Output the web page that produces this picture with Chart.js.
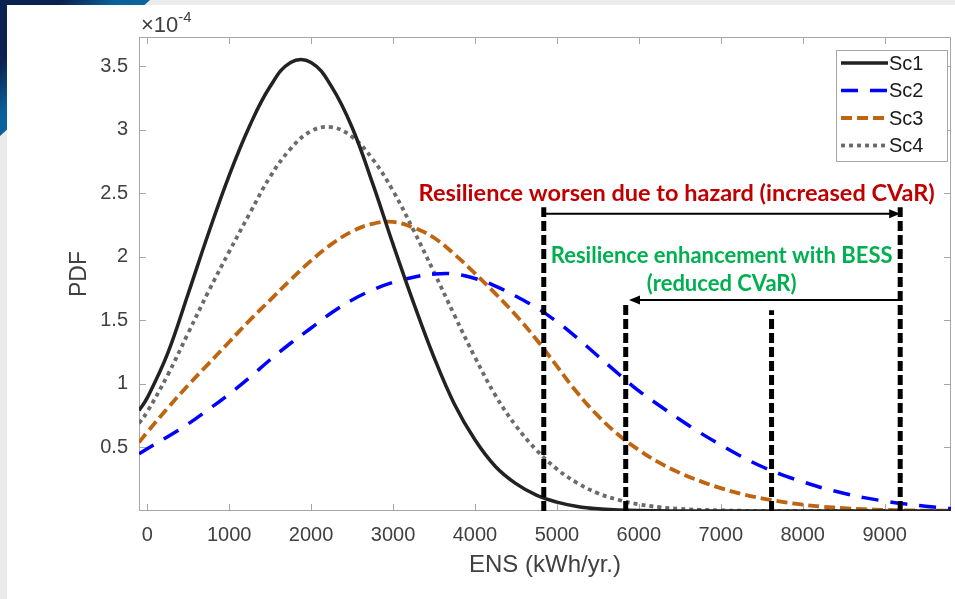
<!DOCTYPE html>
<html>
<head>
<meta charset="utf-8">
<title>PDF of ENS</title>
<script src="https://cdn.jsdelivr.net/npm/chart.js@4.4.1/dist/chart.umd.min.js"></script>
<style>
  html, body { margin: 0; padding: 0; }
  body { width: 955px; height: 599px; background: #ebebeb; position: relative; overflow: hidden; }
  .deco { position: absolute; left: 0; top: 0; width: 150px; height: 136px;
    background: linear-gradient(135deg, #0b2150 0%, #0b2150 22%, #0a5f98 40%, #1a7fbd 100%);
    clip-path: polygon(0 0, 100% 0, 0 100%); }
  .card { position: absolute; left: 7px; top: 5px; right: 0; bottom: 0; background: #fff; }
  #chart { position: absolute; left: 0; top: 0; }
</style>
</head>
<body>
<div class="deco"></div>
<div class="card"></div>
<canvas id="chart" width="955" height="599"></canvas>
<script>
// ENS values (kWh/yr.) where the curves were read
const ensGrid = [-100, 0, 250, 500, 750, 1000, 1250, 1500, 1750, 2000, 2250, 2500, 2750, 3000,
  3250, 3500, 3750, 4000, 4250, 4500, 4750, 5000, 5250, 5500, 5750, 6000, 6250, 6500, 6750,
  7000, 7250, 7500, 7750, 8000, 8250, 8500, 8750, 9000, 9250, 9500, 9750, 9810];

// PDF values, in units of 1e-4
const sc1 = [0.79, 0.89, 1.24, 1.71, 2.19, 2.64, 3.03, 3.34, 3.53, 3.53, 3.34, 3.02, 2.58, 2.10,
  1.64, 1.21, 0.84, 0.56, 0.35, 0.215, 0.125, 0.07, 0.036, 0.017, 0.008, 0.003, 0.001, 0, 0,
  0, 0, 0, 0, 0, 0, 0, 0, 0, 0, 0, 0, 0];
const sc2 = [0.45, 0.49, 0.585, 0.685, 0.80, 0.92, 1.05, 1.19, 1.32, 1.44, 1.56, 1.66, 1.74, 1.80,
  1.84, 1.865, 1.865, 1.83, 1.77, 1.69, 1.60, 1.49, 1.36, 1.22, 1.08, 0.945, 0.83, 0.72, 0.615,
  0.52, 0.43, 0.35, 0.285, 0.23, 0.18, 0.14, 0.105, 0.078, 0.056, 0.038, 0.022, 0.019];
const sc3 = [0.54, 0.62, 0.81, 0.99, 1.16, 1.33, 1.50, 1.66, 1.82, 1.97, 2.10, 2.20, 2.26, 2.275,
  2.23, 2.15, 2.02, 1.87, 1.71, 1.54, 1.35, 1.14, 0.93, 0.75, 0.60, 0.48, 0.38, 0.30, 0.235,
  0.18, 0.135, 0.10, 0.072, 0.05, 0.034, 0.022, 0.014, 0.009, 0.005, 0.003, 0.002, 0.001];
const sc4 = [0.69, 0.78, 1.07, 1.40, 1.73, 2.04, 2.34, 2.63, 2.85, 2.99, 3.02, 2.945, 2.77, 2.52,
  2.21, 1.88, 1.54, 1.21, 0.91, 0.67, 0.48, 0.33, 0.22, 0.14, 0.088, 0.053, 0.03, 0.017, 0.009,
  0.005, 0.002, 0.001, 0, 0, 0, 0, 0, 0, 0, 0, 0, 0];

const seriesLabels = ['Sc1', 'Sc2', 'Sc3', 'Sc4'];
const xTickValues = [0, 1000, 2000, 3000, 4000, 5000, 6000, 7000, 8000, 9000];
const yTickValues = [0.5, 1, 1.5, 2, 2.5, 3, 3.5];

// CVaR markers (vertical dashed lines)
const markerX = [4840, 5840, 7620, 9190];
const markerTop = [2.39, 1.65, 1.58, 2.39];

// arrows between markers
const arrowFrom = [4840, 9190];
const arrowTo = [9190, 5880];
const arrowY = [2.34, 1.66];

// annotation texts
const noteText = ['Resilience worsen due to hazard (increased CVaR)', 'Resilience enhancement with BESS', '(reduced CVaR)'];
const noteX = [6462, 7011, 7011];
const noteY = [2.50, 2.01, 1.79];
const noteSize = [23.5, 22, 22];
const noteColor = ['#c00000', '#00b050', '#00b050'];

const AXIS_FONT = '"Liberation Sans", Arial, sans-serif';
const NOTE_FONT = 'Lato, "Open Sans", sans-serif';
const TEXT = '#404040';

const toPoints = ys => ensGrid.map((x, i) => ({ x, y: ys[i] }));

const curveStyle = [
  { borderColor: '#222222', borderWidth: 3.5, borderDash: [] },
  { borderColor: '#0000ff', borderWidth: 3.5, borderDash: [17, 12] },
  { borderColor: '#bf6410', borderWidth: 3.8, borderDash: [11, 5] },
  { borderColor: '#6b6b6b', borderWidth: 3.8, borderDash: [4, 4] },
];

const datasets = [sc1, sc2, sc3, sc4].map((ys, i) => ({
  label: seriesLabels[i],
  data: toPoints(ys),
  ...curveStyle[i],
  pointRadius: 0,
  tension: 0.4,
  fill: false,
}));

markerX.forEach((x, i) => {
  datasets.push({
    label: 'marker' + i,
    data: [{ x, y: 0 }, { x, y: markerTop[i] }],
    borderColor: '#000',
    borderWidth: 5,
    borderDash: [10, 4],
    pointRadius: 0,
    tension: 0,
    order: -1,
  });
});

function arrowHead(ctx, x, y, dir) {
  ctx.beginPath();
  ctx.moveTo(x, y);
  ctx.lineTo(x - dir * 11, y - 4.5);
  ctx.lineTo(x - dir * 11, y + 4.5);
  ctx.closePath();
  ctx.fill();
}

const overlay = {
  id: 'overlay',
  beforeDatasetsDraw(chart) {
    const { ctx, chartArea: a, scales: { x, y } } = chart;
    ctx.save();
    ctx.strokeStyle = '#a6a6a6';
    ctx.lineWidth = 1;
    ctx.strokeRect(a.left + 0.5, a.top + 0.5, a.right - a.left - 1, a.bottom - a.top - 1);
    ctx.beginPath();
    x.ticks.forEach(t => {
      const px = Math.round(x.getPixelForValue(t.value)) + 0.5;
      ctx.moveTo(px, a.bottom); ctx.lineTo(px, a.bottom - 7);
      ctx.moveTo(px, a.top); ctx.lineTo(px, a.top + 7);
    });
    y.ticks.forEach(t => {
      const py = Math.round(y.getPixelForValue(t.value)) + 0.5;
      ctx.moveTo(a.left, py); ctx.lineTo(a.left + 7, py);
      ctx.moveTo(a.right, py); ctx.lineTo(a.right - 7, py);
    });
    ctx.stroke();
    ctx.restore();
  },
  afterDatasetsDraw(chart) {
    const { ctx, chartArea: a, scales: { x, y } } = chart;
    ctx.save();

    // arrows
    ctx.strokeStyle = '#000';
    ctx.fillStyle = '#000';
    ctx.lineWidth = 2;
    arrowFrom.forEach((f, i) => {
      const x0 = x.getPixelForValue(f), x1 = x.getPixelForValue(arrowTo[i]);
      const py = y.getPixelForValue(arrowY[i]);
      const dir = x1 > x0 ? 1 : -1;
      ctx.beginPath();
      ctx.moveTo(x0, py); ctx.lineTo(x1 - dir * 8, py);
      ctx.stroke();
      arrowHead(ctx, x1, py, dir);
    });

    // notes
    ctx.textAlign = 'center';
    ctx.textBaseline = 'middle';
    noteText.forEach((t, i) => {
      ctx.font = 'bold ' + noteSize[i] + 'px ' + NOTE_FONT;
      ctx.fillStyle = noteColor[i];
      ctx.fillText(t, x.getPixelForValue(noteX[i]), y.getPixelForValue(noteY[i]));
    });

    // legend
    const lx = 836, ly = 50, lw = 111, lh = 111;
    ctx.fillStyle = '#fff';
    ctx.fillRect(lx, ly, lw, lh);
    ctx.strokeStyle = '#a6a6a6';
    ctx.lineWidth = 1;
    ctx.setLineDash([]);
    ctx.strokeRect(lx + 0.5, ly + 0.5, lw, lh);
    ctx.font = '20px ' + AXIS_FONT;
    ctx.textAlign = 'left';
    ctx.textBaseline = 'middle';
    chart.data.datasets.slice(0, 4).forEach((ds, i) => {
      const ry = ly + 13 + i * 27.5;
      ctx.strokeStyle = ds.borderColor;
      ctx.lineWidth = ds.borderWidth;
      ctx.setLineDash(ds.borderDash);
      ctx.beginPath();
      ctx.moveTo(lx + 5, ry); ctx.lineTo(lx + 52, ry);
      ctx.stroke();
      ctx.setLineDash([]);
      ctx.fillStyle = '#1a1a1a';
      ctx.fillText(ds.label, lx + 53, ry + 1);
    });

    // exponent of the y axis
    ctx.fillStyle = TEXT;
    ctx.textBaseline = 'alphabetic';
    ctx.font = '22px ' + AXIS_FONT;
    ctx.fillText('\u00d710', a.left + 2, a.top - 5);
    const w = ctx.measureText('\u00d710').width;
    ctx.font = '15px ' + AXIS_FONT;
    ctx.fillText('-4', a.left + 2 + w, a.top - 15);
    ctx.restore();
  }
};

const plainNumber = v => String(v);

new Chart(document.getElementById('chart'), {
  type: 'line',
  data: { datasets },
  options: {
    responsive: false,
    devicePixelRatio: 1,
    animation: false,
    layout: { padding: { top: 37, right: 4, left: 0, bottom: 0 } },
    plugins: { legend: { display: false }, tooltip: { enabled: false } },
    scales: {
      x: {
        type: 'linear',
        min: -100,
        max: 9810,
        afterBuildTicks: s => { s.ticks = xTickValues.map(v => ({ value: v })); },
        afterFit: s => { s.height = 88; },
        grid: { display: false, drawTicks: false },
        border: { display: false },
        ticks: { color: TEXT, font: { family: AXIS_FONT, size: 20 }, padding: 12, maxRotation: 0, callback: plainNumber },
        title: { display: true, text: 'ENS (kWh/yr.)', color: TEXT, font: { family: AXIS_FONT, size: 24 }, padding: { top: 0, bottom: 19 } },
      },
      y: {
        min: 0,
        max: 3.73,
        afterBuildTicks: s => { s.ticks = yTickValues.map(v => ({ value: v })); },
        afterFit: s => { s.width = 139; },
        grid: { display: false, drawTicks: false },
        border: { display: false },
        ticks: { color: TEXT, font: { family: AXIS_FONT, size: 20 }, padding: 11, callback: plainNumber },
        title: { display: true, text: 'PDF', color: TEXT, font: { family: AXIS_FONT, size: 23 }, padding: { top: 66, bottom: 0 } },
      },
    },
  },
  plugins: [overlay],
});
</script>
</body>
</html>
